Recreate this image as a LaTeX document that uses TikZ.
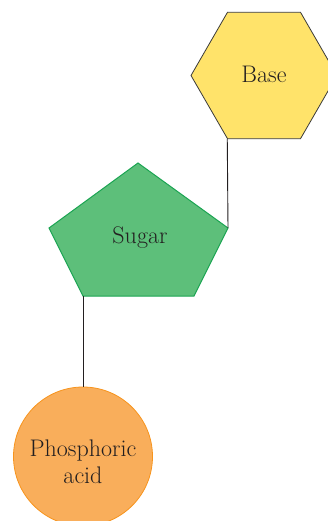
\documentclass[tikz,border=0pt]{standalone}
\usetikzlibrary{shapes.geometric}
\definecolor{hexfill}{HTML}{FFE36A}
\definecolor{hexline}{HTML}{3A3A3A}
\definecolor{pentfill}{HTML}{5DBF7A}
\definecolor{pentline}{HTML}{1BA452}
\definecolor{circfill}{HTML}{F9AE5B}
\definecolor{circline}{HTML}{F7941D}
\definecolor{txt}{HTML}{231F20}
\begin{document}
\begin{tikzpicture}[x=1pt,y=-1pt,
  lbl/.style={text=txt,font=\fontsize{24}{27}\selectfont,align=center,inner sep=0pt},
  link/.style={draw=txt,line width=0.9pt}]
\useasboundingbox (0,0) rectangle (328,521);
\clip (0,0) rectangle (328,521);
% Base hexagon
\node[regular polygon,regular polygon sides=6,minimum size=146pt,inner sep=0pt,
  fill=hexfill,draw=hexline,line width=0.8pt] (base) at (264,75.5) {};
\node[lbl] (basetxt) at (264,74) {Base};
% Sugar pentagon
\coordinate (pt) at (138,163);
\coordinate (pl) at (49,228);
\coordinate (pr) at (228,228);
\coordinate (pbl) at (83,296);
\coordinate (pbr) at (194,296);
\draw[fill=pentfill,draw=pentline,line width=1pt] (pt) -- (pr) -- (pbr) -- (pbl) -- (pl) -- cycle;
\node[lbl] (sugar) at (140,238) {Sugar};
% Phosphoric acid circle
\node[circle,minimum size=139pt,inner sep=0pt,fill=circfill,draw=circline,line width=0.8pt] (phos) at (83,456.5) {};
\node[lbl] (phostxt) at (83,462) {Phosphoric\\acid};
% connectors
\draw[link] (base.corner 4) -- (pr);
\draw[link] (pbl) -- (phos.north);
\end{tikzpicture}
\end{document}
